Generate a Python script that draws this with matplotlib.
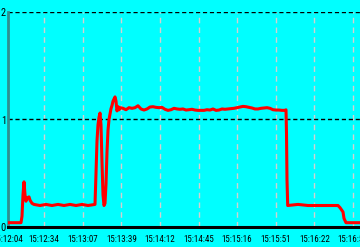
import matplotlib

matplotlib.use("Agg")

import matplotlib.pyplot as plt  # noqa: E402
from matplotlib import font_manager  # noqa: E402

# readings per segment; the x axis is sample number (one sample per screen column)
start_idx = [1, 13, 14, 15, 16, 17, 18, 19, 21, 22, 24, 26]
start_val = [0.04, 0.04, 0.10, 0.30, 0.42, 0.30, 0.24, 0.27, 0.28, 0.25, 0.22, 0.21]

idle_idx = [32, 38, 44, 50, 56, 62, 68, 74, 80, 87]
idle_val = [0.20, 0.21, 0.20, 0.21, 0.20, 0.21, 0.20, 0.21, 0.20, 0.21]

ramp_idx = list(range(88, 113))
ramp_val = [
    0.50, 0.80, 0.95, 1.02, 1.06, 0.95, 0.60, 0.30, 0.20, 0.22,
    0.40, 0.70, 0.90, 1.00, 1.05, 1.10, 1.13, 1.17, 1.19, 1.21,
    1.17, 1.08, 1.12, 1.09, 1.11,
]

load_idx = list(range(115, 278, 3))
load_val = [
    1.104, 1.091, 1.110, 1.104, 1.110, 1.128, 1.098, 1.088, 1.098, 1.116,
    1.119, 1.113, 1.110, 1.113, 1.095, 1.085, 1.091, 1.104, 1.098, 1.095,
    1.098, 1.088, 1.091, 1.095, 1.088, 1.085, 1.085, 1.085, 1.091, 1.088,
    1.098, 1.085, 1.088, 1.098, 1.095, 1.098, 1.101, 1.104, 1.110, 1.116,
    1.122, 1.119, 1.113, 1.107, 1.098, 1.098, 1.104, 1.107, 1.110, 1.104,
    1.091, 1.088, 1.088, 1.085, 1.085,
]

end_idx = [278, 278.5, 279, 279.7, 290, 300, 310, 330, 332, 335, 336, 338, 345, 352]
end_val = [1.09, 0.87, 0.44, 0.20, 0.21, 0.20, 0.20, 0.20, 0.18, 0.14, 0.08, 0.04, 0.04, 0.04]

sample_idx = start_idx + idle_idx + ramp_idx + load_idx + end_idx
reading = start_val + idle_val + ramp_val + load_val + end_val

tick_idx = [0, 36.1, 74.7, 113.3, 151.9, 190.5, 229.1, 267.7, 306.3, 344.9]
tick_labels = [
    "15:12:04", "15:12:34", "15:13:07", "15:13:39", "15:14:12",
    "15:14:45", "15:15:16", "15:15:51", "15:16:22", "15:16:55",
]
y_ticks = [0, 1, 2]


def _narrow_font():
    """Pick a condensed face if one is installed, else Roboto at a small size."""
    names = {f.name for f in font_manager.fontManager.ttflist}
    for name in ("Liberation Sans Narrow", "DejaVu Sans Condensed", "Roboto Condensed"):
        if name in names:
            return {"family": name}, 6.5
    for f in font_manager.fontManager.ttflist:
        if f.name == "DejaVu Sans" and "condensed" in str(f.stretch):
            return {"family": "DejaVu Sans", "stretch": "condensed"}, 5.8
    return {"family": "Roboto"}, 5.8


font_props, xsize = _narrow_font()

fig = plt.figure(figsize=(3.6, 2.47), dpi=100, facecolor="#00ffff")
ax = fig.add_axes([8 / 360, 20 / 247, 352 / 360, 215 / 247])
ax.set_facecolor("#00ffff")

for t in tick_idx[1:]:
    ax.axvline(t, color="#d4d0d0", lw=1, ls=(0, (4, 3)), zorder=1)
for v in y_ticks[1:]:
    ax.axhline(v, color="black", lw=1, ls=(0, (3, 2)), zorder=1)

ax.plot(sample_idx, reading, color="#ff0000", lw=2.2, zorder=3)

ax.set_xlim(0, 352)
ax.set_ylim(0, 2)
ax.set_xticks(tick_idx)
ax.set_xticklabels(tick_labels, fontsize=xsize, **font_props)
ax.set_yticks(y_ticks)
ax.set_yticklabels([str(v) for v in y_ticks], fontsize=7.5, **font_props)
ax.tick_params(axis="both", length=0, colors="black")
ax.tick_params(axis="x", pad=6)
ax.tick_params(axis="y", pad=1.5)

for side in ("top", "right"):
    ax.spines[side].set_visible(False)
ax.spines["left"].set_color("#2f8f8f")
ax.spines["left"].set_linewidth(2)
ax.spines["bottom"].set_color("black")
ax.spines["bottom"].set_linewidth(2.2)
ax.spines["bottom"].set_zorder(4)

fig.savefig("out.png", dpi=100, facecolor=fig.get_facecolor())
